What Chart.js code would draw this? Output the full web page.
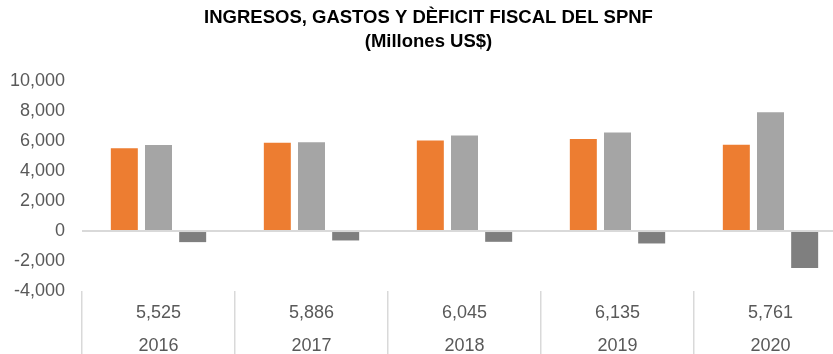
<!DOCTYPE html>
<html>
<head>
<meta charset="utf-8">
<script src="https://cdn.jsdelivr.net/npm/chart.js@4"></script>
<style>
  html, body { margin: 0; padding: 0; overflow: hidden; background: #ffffff; width: 833px; height: 354px; }
  #wrap { position: absolute; left: 0; top: 0; width: 866px; height: 363px; }
</style>
</head>
<body>
<div id="wrap"><canvas id="c" width="866" height="363"></canvas></div>
<script>
const years = ['2016', '2017', '2018', '2019', '2020'];
const ingresos = [5525, 5886, 6045, 6135, 5761];
const gastos = [5745, 5920, 6370, 6570, 7930];
const deficit = [-740, -630, -720, -830, -2470];
const yTicks = { min: -4000, max: 10000, step: 2000 };

const fmt = v => v.toLocaleString('en-US');
const labels = years.map((y, i) => [fmt(ingresos[i]), y]);
const FONT = "'Liberation Sans', Arial, sans-serif";

new Chart(document.getElementById('c'), {
  type: 'bar',
  data: {
    labels: labels,
    datasets: [
      { label: 'Ingresos', data: ingresos, backgroundColor: '#ED7D31' },
      { label: 'Gastos', data: gastos, backgroundColor: '#A5A5A5' },
      { label: 'Déficit', data: deficit, backgroundColor: '#7F7F7F' }
    ]
  },
  options: {
    responsive: false,
    animation: false,
    layout: { padding: { left: 10, right: 19, top: 0, bottom: 0 } },
    datasets: { bar: { barPercentage: 0.79, categoryPercentage: 0.67 } },
    plugins: {
      legend: { display: false },
      tooltip: { enabled: false },
      title: {
        display: true,
        text: ['INGRESOS, GASTOS Y DÈFICIT FISCAL DEL SPNF', '(Millones US$)'],
        color: '#000000',
        font: { family: FONT, size: 18.5, weight: 'bold', lineHeight: 1.3 },
        padding: { top: 6, bottom: 27 }
      }
    },
    scales: {
      x: {
        afterFit: s => { s.height = 72; },
        grid: {
          drawOnChartArea: false,
          drawTicks: true,
          tickLength: 70,
          color: '#D9D9D9',
          lineWidth: 1.5,
          offset: true
        },
        border: { display: false },
        ticks: {
          color: '#595959',
          font: { family: FONT, size: 18, lineHeight: 33 / 18 },
          padding: -64.5,
          maxRotation: 0,
          autoSkip: false
        }
      },
      y: {
        min: yTicks.min,
        max: yTicks.max,
        afterFit: s => { s.width = 72; },
        grid: {
          drawTicks: false,
          color: ctx => (ctx.tick && ctx.tick.value === 0) ? '#D9D9D9' : 'rgba(0,0,0,0)',
          lineWidth: 2
        },
        border: { display: false },
        ticks: {
          stepSize: yTicks.step,
          color: '#595959',
          font: { family: FONT, size: 18 },
          padding: 17,
          callback: v => fmt(v)
        }
      }
    }
  }
});
</script>
</body>
</html>
